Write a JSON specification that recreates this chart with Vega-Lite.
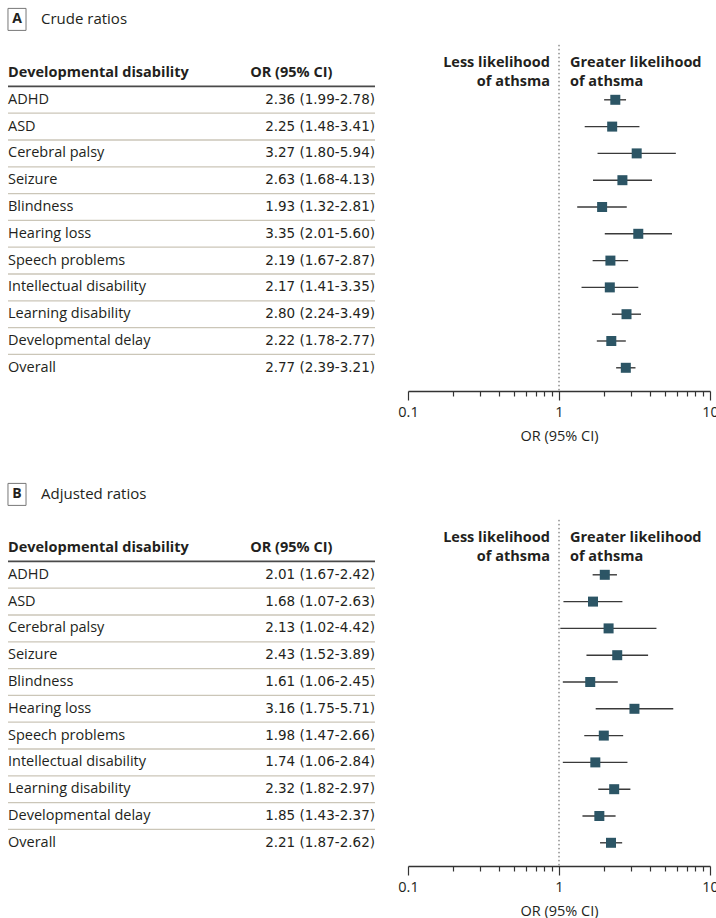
{
  "$schema": "https://vega.github.io/schema/vega-lite/v6.json",
  "padding": {"left": 5, "top": 6, "right": 0, "bottom": 0},
  "background": "white",
  "config": {
    "view": {"stroke": null},
    "font": "Open Sans",
    "text": {"font": "Open Sans", "fontSize": 14.5, "color": "#231f20"}
  },
  "datasets": {
    "crude": [
      {"d": "ADHD", "or": 2.36, "lo": 1.99, "hi": 2.78, "label": "2.36 (1.99-2.78)"},
      {"d": "ASD", "or": 2.25, "lo": 1.48, "hi": 3.41, "label": "2.25 (1.48-3.41)"},
      {"d": "Cerebral palsy", "or": 3.27, "lo": 1.80, "hi": 5.94, "label": "3.27 (1.80-5.94)"},
      {"d": "Seizure", "or": 2.63, "lo": 1.68, "hi": 4.13, "label": "2.63 (1.68-4.13)"},
      {"d": "Blindness", "or": 1.93, "lo": 1.32, "hi": 2.81, "label": "1.93 (1.32-2.81)"},
      {"d": "Hearing loss", "or": 3.35, "lo": 2.01, "hi": 5.60, "label": "3.35 (2.01-5.60)"},
      {"d": "Speech problems", "or": 2.19, "lo": 1.67, "hi": 2.87, "label": "2.19 (1.67-2.87)"},
      {"d": "Intellectual disability", "or": 2.17, "lo": 1.41, "hi": 3.35, "label": "2.17 (1.41-3.35)"},
      {"d": "Learning disability", "or": 2.80, "lo": 2.24, "hi": 3.49, "label": "2.80 (2.24-3.49)"},
      {"d": "Developmental delay", "or": 2.22, "lo": 1.78, "hi": 2.77, "label": "2.22 (1.78-2.77)"},
      {"d": "Overall", "or": 2.77, "lo": 2.39, "hi": 3.21, "label": "2.77 (2.39-3.21)"}
    ],
    "adjusted": [
      {"d": "ADHD", "or": 2.01, "lo": 1.67, "hi": 2.42, "label": "2.01 (1.67-2.42)"},
      {"d": "ASD", "or": 1.68, "lo": 1.07, "hi": 2.63, "label": "1.68 (1.07-2.63)"},
      {"d": "Cerebral palsy", "or": 2.13, "lo": 1.02, "hi": 4.42, "label": "2.13 (1.02-4.42)"},
      {"d": "Seizure", "or": 2.43, "lo": 1.52, "hi": 3.89, "label": "2.43 (1.52-3.89)"},
      {"d": "Blindness", "or": 1.61, "lo": 1.06, "hi": 2.45, "label": "1.61 (1.06-2.45)"},
      {"d": "Hearing loss", "or": 3.16, "lo": 1.75, "hi": 5.71, "label": "3.16 (1.75-5.71)"},
      {"d": "Speech problems", "or": 1.98, "lo": 1.47, "hi": 2.66, "label": "1.98 (1.47-2.66)"},
      {"d": "Intellectual disability", "or": 1.74, "lo": 1.06, "hi": 2.84, "label": "1.74 (1.06-2.84)"},
      {"d": "Learning disability", "or": 2.32, "lo": 1.82, "hi": 2.97, "label": "2.32 (1.82-2.97)"},
      {"d": "Developmental delay", "or": 1.85, "lo": 1.43, "hi": 2.37, "label": "1.85 (1.43-2.37)"},
      {"d": "Overall", "or": 2.21, "lo": 1.87, "hi": 2.62, "label": "2.21 (1.87-2.62)"}
    ],
    "one": [{"k": 1}]
  },
  "spacing": 38,
  "vconcat": [
    {
      "bounds": "flush",
      "spacing": 33,
      "hconcat": [
        {
          "width": 367, "height": 385,
          "layer": [
            {"data": {"name": "one"},
             "mark": {"type": "point", "shape": "M-0.82,-1H0.82V1H-0.82Z", "size": 484, "filled": false, "stroke": "#777", "strokeWidth": 1, "opacity": 1, "xOffset": 9},
             "encoding": {
               "x": {"datum": 0, "type": "quantitative", "scale": {"domain": [0, 1]}, "axis": null},
               "y": {"datum": "_title", "type": "nominal", "axis": null,
                     "scale": {"type": "band", "domain": ["_title","_gap","_head","ADHD","ASD","Cerebral palsy","Seizure","Blindness","Hearing loss","Speech problems","Intellectual disability","Learning disability","Developmental delay","Overall"], "paddingInner": 0, "paddingOuter": 0.183, "align": 0}}
             }},
            {"data": {"name": "one"},
             "mark": {"type": "text", "fontWeight": "bold", "fontSize": 14, "align": "center", "baseline": "middle", "dx": 9},
             "encoding": {"x": {"datum": 0, "type": "quantitative"}, "y": {"datum": "_title", "type": "nominal"}, "text": {"value": "A"}}},
            {"data": {"name": "one"},
             "mark": {"type": "text", "fontSize": 15, "align": "left", "baseline": "middle", "dx": 33},
             "encoding": {"x": {"datum": 0, "type": "quantitative"}, "y": {"datum": "_title", "type": "nominal"}, "text": {"value": "Crude ratios"}}},
            {"data": {"name": "one"},
             "mark": {"type": "text", "fontWeight": "bold", "align": "left", "baseline": "middle"},
             "encoding": {"x": {"datum": 0, "type": "quantitative"}, "y": {"datum": "_head", "type": "nominal"}, "text": {"value": "Developmental disability"}}},
            {"data": {"name": "one"},
             "mark": {"type": "text", "fontWeight": "bold", "align": "left", "baseline": "middle"},
             "encoding": {"x": {"datum": 0.66, "type": "quantitative"}, "y": {"datum": "_head", "type": "nominal"}, "text": {"value": "OR (95% CI)"}}},
            {"data": {"name": "crude"},
             "transform": [{"filter": "datum.d !== 'ADHD'"}],
             "mark": {"type": "rule", "color": "#cbc6b8", "strokeWidth": 1.3},
             "encoding": {"y": {"field": "d", "type": "nominal", "bandPosition": 0}}},
            {"data": {"name": "one"},
             "mark": {"type": "rule", "color": "#4a4a4a", "strokeWidth": 1.6},
             "encoding": {"y": {"datum": "ADHD", "type": "nominal", "bandPosition": 0}}},
            {"data": {"name": "crude"},
             "mark": {"type": "text", "align": "left", "baseline": "middle"},
             "encoding": {"x": {"datum": 0, "type": "quantitative"}, "y": {"field": "d", "type": "nominal"}, "text": {"field": "d"}}},
            {"data": {"name": "crude"},
             "mark": {"type": "text", "align": "right", "baseline": "middle", "font": "DejaVu Sans", "fontSize": 13.5},
             "encoding": {"x": {"datum": 1, "type": "quantitative"}, "y": {"field": "d", "type": "nominal"}, "text": {"field": "label"}}}
          ]
        },
        {
          "width": 302, "height": 385,
          "layer": [
            {"data": {"name": "one"},
             "mark": {"type": "rule", "color": "#555", "strokeWidth": 1, "strokeDash": [1.5, 2.5]},
             "encoding": {
               "x": {"datum": 1, "type": "quantitative",
                     "scale": {"type": "log", "domain": [0.1, 10], "nice": false},
                     "axis": {
                       "values": [0.1,0.2,0.3,0.4,0.5,0.6,0.7,0.8,0.9,1,2,3,4,5,6,7,8,9,10],
                       "labelExpr": "(datum.value == 0.1 || datum.value == 1 || datum.value == 10) ? format(datum.value, '~g') : ''",
                       "labelOverlap": false, "labelFlush": false, "grid": false,
                       "tickSize": {"condition": {"test": "datum.value == 0.1 || datum.value == 1 || datum.value == 10", "value": 9}, "value": 5},
                       "tickColor": "#333", "tickWidth": 1.2, "domainColor": "#333", "domainWidth": 1.5,
                       "labelFontSize": 14.5, "labelColor": "#231f20", "labelPadding": 5, "labelFont": "Open Sans",
                       "title": "OR (95% CI)", "titleFontSize": 14.5, "titleFontWeight": "normal", "titleColor": "#231f20", "titleFont": "Open Sans", "titlePadding": 11
                     }},
               "y": {"datum": "_gap", "type": "nominal", "bandPosition": 0.45, "axis": null,
                     "scale": {"type": "band", "domain": ["_title","_gap","_head","ADHD","ASD","Cerebral palsy","Seizure","Blindness","Hearing loss","Speech problems","Intellectual disability","Learning disability","Developmental delay","Overall"], "paddingInner": 0, "paddingOuter": 0.183, "align": 0}},
               "y2": {"value": "height"}
             }},
            {"data": {"name": "one"},
             "mark": {"type": "text", "fontWeight": "bold", "align": "right", "baseline": "middle", "dx": -9, "dy": -9.5, "lineHeight": 19},
             "encoding": {"x": {"datum": 1, "type": "quantitative"}, "y": {"datum": "_head", "type": "nominal"}, "text": {"value": ["Less likelihood", "of athsma"]}}},
            {"data": {"name": "one"},
             "mark": {"type": "text", "fontWeight": "bold", "align": "left", "baseline": "middle", "dx": 11, "dy": -9.5, "lineHeight": 19},
             "encoding": {"x": {"datum": 1, "type": "quantitative"}, "y": {"datum": "_head", "type": "nominal"}, "text": {"value": ["Greater likelihood", "of athsma"]}}},
            {"data": {"name": "crude"},
             "mark": {"type": "rule", "color": "#3a3a3a", "strokeWidth": 1.4},
             "encoding": {"x": {"field": "lo", "type": "quantitative"}, "x2": {"field": "hi"}, "y": {"field": "d", "type": "nominal"}}},
            {"data": {"name": "crude"},
             "mark": {"type": "point", "shape": "square", "filled": true, "size": 100, "color": "#2c5565", "opacity": 1},
             "encoding": {"x": {"field": "or", "type": "quantitative"}, "y": {"field": "d", "type": "nominal"}}}
          ]
        }
      ]
    },
    {
      "bounds": "flush",
      "spacing": 33,
      "hconcat": [
        {
          "width": 367, "height": 385,
          "layer": [
            {"data": {"name": "one"},
             "mark": {"type": "point", "shape": "M-0.82,-1H0.82V1H-0.82Z", "size": 484, "filled": false, "stroke": "#777", "strokeWidth": 1, "opacity": 1, "xOffset": 9},
             "encoding": {
               "x": {"datum": 0, "type": "quantitative", "scale": {"domain": [0, 1]}, "axis": null},
               "y": {"datum": "_title", "type": "nominal", "axis": null,
                     "scale": {"type": "band", "domain": ["_title","_gap","_head","ADHD","ASD","Cerebral palsy","Seizure","Blindness","Hearing loss","Speech problems","Intellectual disability","Learning disability","Developmental delay","Overall"], "paddingInner": 0, "paddingOuter": 0.183, "align": 0}}
             }},
            {"data": {"name": "one"},
             "mark": {"type": "text", "fontWeight": "bold", "fontSize": 14, "align": "center", "baseline": "middle", "dx": 9},
             "encoding": {"x": {"datum": 0, "type": "quantitative"}, "y": {"datum": "_title", "type": "nominal"}, "text": {"value": "B"}}},
            {"data": {"name": "one"},
             "mark": {"type": "text", "fontSize": 15, "align": "left", "baseline": "middle", "dx": 33},
             "encoding": {"x": {"datum": 0, "type": "quantitative"}, "y": {"datum": "_title", "type": "nominal"}, "text": {"value": "Adjusted ratios"}}},
            {"data": {"name": "one"},
             "mark": {"type": "text", "fontWeight": "bold", "align": "left", "baseline": "middle"},
             "encoding": {"x": {"datum": 0, "type": "quantitative"}, "y": {"datum": "_head", "type": "nominal"}, "text": {"value": "Developmental disability"}}},
            {"data": {"name": "one"},
             "mark": {"type": "text", "fontWeight": "bold", "align": "left", "baseline": "middle"},
             "encoding": {"x": {"datum": 0.66, "type": "quantitative"}, "y": {"datum": "_head", "type": "nominal"}, "text": {"value": "OR (95% CI)"}}},
            {"data": {"name": "adjusted"},
             "transform": [{"filter": "datum.d !== 'ADHD'"}],
             "mark": {"type": "rule", "color": "#cbc6b8", "strokeWidth": 1.3},
             "encoding": {"y": {"field": "d", "type": "nominal", "bandPosition": 0}}},
            {"data": {"name": "one"},
             "mark": {"type": "rule", "color": "#4a4a4a", "strokeWidth": 1.6},
             "encoding": {"y": {"datum": "ADHD", "type": "nominal", "bandPosition": 0}}},
            {"data": {"name": "adjusted"},
             "mark": {"type": "text", "align": "left", "baseline": "middle"},
             "encoding": {"x": {"datum": 0, "type": "quantitative"}, "y": {"field": "d", "type": "nominal"}, "text": {"field": "d"}}},
            {"data": {"name": "adjusted"},
             "mark": {"type": "text", "align": "right", "baseline": "middle", "font": "DejaVu Sans", "fontSize": 13.5},
             "encoding": {"x": {"datum": 1, "type": "quantitative"}, "y": {"field": "d", "type": "nominal"}, "text": {"field": "label"}}}
          ]
        },
        {
          "width": 302, "height": 385,
          "layer": [
            {"data": {"name": "one"},
             "mark": {"type": "rule", "color": "#555", "strokeWidth": 1, "strokeDash": [1.5, 2.5]},
             "encoding": {
               "x": {"datum": 1, "type": "quantitative",
                     "scale": {"type": "log", "domain": [0.1, 10], "nice": false},
                     "axis": {
                       "values": [0.1,0.2,0.3,0.4,0.5,0.6,0.7,0.8,0.9,1,2,3,4,5,6,7,8,9,10],
                       "labelExpr": "(datum.value == 0.1 || datum.value == 1 || datum.value == 10) ? format(datum.value, '~g') : ''",
                       "labelOverlap": false, "labelFlush": false, "grid": false,
                       "tickSize": {"condition": {"test": "datum.value == 0.1 || datum.value == 1 || datum.value == 10", "value": 9}, "value": 5},
                       "tickColor": "#333", "tickWidth": 1.2, "domainColor": "#333", "domainWidth": 1.5,
                       "labelFontSize": 14.5, "labelColor": "#231f20", "labelPadding": 5, "labelFont": "Open Sans",
                       "title": "OR (95% CI)", "titleFontSize": 14.5, "titleFontWeight": "normal", "titleColor": "#231f20", "titleFont": "Open Sans", "titlePadding": 11
                     }},
               "y": {"datum": "_gap", "type": "nominal", "bandPosition": 0.45, "axis": null,
                     "scale": {"type": "band", "domain": ["_title","_gap","_head","ADHD","ASD","Cerebral palsy","Seizure","Blindness","Hearing loss","Speech problems","Intellectual disability","Learning disability","Developmental delay","Overall"], "paddingInner": 0, "paddingOuter": 0.183, "align": 0}},
               "y2": {"value": "height"}
             }},
            {"data": {"name": "one"},
             "mark": {"type": "text", "fontWeight": "bold", "align": "right", "baseline": "middle", "dx": -9, "dy": -9.5, "lineHeight": 19},
             "encoding": {"x": {"datum": 1, "type": "quantitative"}, "y": {"datum": "_head", "type": "nominal"}, "text": {"value": ["Less likelihood", "of athsma"]}}},
            {"data": {"name": "one"},
             "mark": {"type": "text", "fontWeight": "bold", "align": "left", "baseline": "middle", "dx": 11, "dy": -9.5, "lineHeight": 19},
             "encoding": {"x": {"datum": 1, "type": "quantitative"}, "y": {"datum": "_head", "type": "nominal"}, "text": {"value": ["Greater likelihood", "of athsma"]}}},
            {"data": {"name": "adjusted"},
             "mark": {"type": "rule", "color": "#3a3a3a", "strokeWidth": 1.4},
             "encoding": {"x": {"field": "lo", "type": "quantitative"}, "x2": {"field": "hi"}, "y": {"field": "d", "type": "nominal"}}},
            {"data": {"name": "adjusted"},
             "mark": {"type": "point", "shape": "square", "filled": true, "size": 100, "color": "#2c5565", "opacity": 1},
             "encoding": {"x": {"field": "or", "type": "quantitative"}, "y": {"field": "d", "type": "nominal"}}}
          ]
        }
      ]
    }
  ]
}
